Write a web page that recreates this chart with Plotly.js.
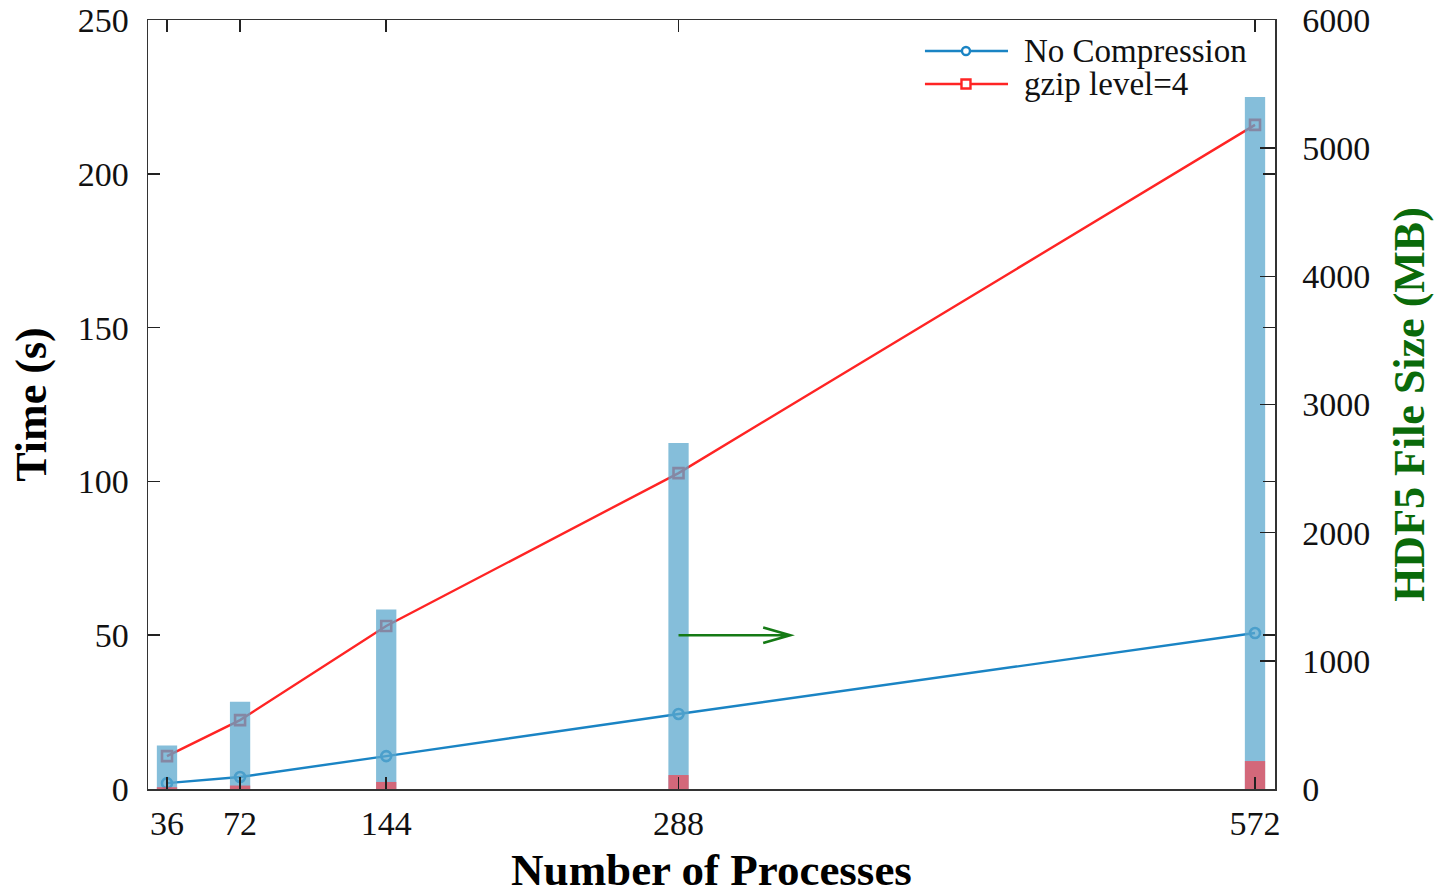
<!DOCTYPE html>
<html>
<head>
<meta charset="utf-8">
<script src="https://cdn.plot.ly/plotly-3.0.1.min.js"></script>
<style>html,body{margin:0;padding:0;background:#fff;}#chart{width:1435px;height:895px;}</style>
</head>
<body>
<div id="chart"></div>
<script>
// ---- data ----
const processes = [36, 72, 144, 288, 572];
const timeNoCompression = [1.9, 3.9, 10.7, 24.4, 50.7];
const timeGzip4 = [10.7, 22.4, 53.0, 102.7, 215.9];
const sizeNoCompressionMB = [340, 680, 1400, 2700, 5400];
const sizeGzip4MB = [14, 27, 55, 109, 218];
const seriesNames = ['No Compression', 'gzip level=4'];
const xTickLabels = ['36', '72', '144', '288', '572'];

const FONT = 'Liberation Serif, Times New Roman, serif';
const BLUE = '#1a84c4';
const RED = '#ff2424';

const traces = [
  {
    x: processes, y: timeNoCompression, name: seriesNames[0], type: 'scatter', mode: 'lines+markers',
    line: {color: BLUE, width: 2.4}, marker: {symbol: 'circle-open', size: 10, color: BLUE, line: {width: 2.6, color: BLUE}},
    xaxis: 'x', yaxis: 'y', showlegend: false
  },
  {
    x: processes, y: timeGzip4, name: seriesNames[1], type: 'scatter', mode: 'lines+markers',
    line: {color: RED, width: 2.4}, marker: {symbol: 'square-open', size: 10, color: RED, line: {width: 2.6, color: RED}},
    xaxis: 'x', yaxis: 'y', showlegend: false
  },
  {
    x: processes, y: sizeNoCompressionMB, name: seriesNames[0] + ' size', type: 'bar', width: 10,
    marker: {color: 'rgba(92,168,206,0.75)', line: {width: 0}},
    xaxis: 'x', yaxis: 'y2', showlegend: false
  },
  {
    x: processes, y: sizeGzip4MB, name: seriesNames[1] + ' size', type: 'bar', width: 10,
    marker: {color: 'rgba(238,75,90,0.75)', line: {width: 0}},
    xaxis: 'x', yaxis: 'y2', showlegend: false
  }
];

// arrow pointing to the right axis (bars use the right axis)
const arrowX0 = processes[3], arrowX1 = 343, arrowY = 50;
const headDX = 13.3, headDY = 2.5;

// custom legend placement (paper coords)
const legX0 = 0.6894, legX1 = 0.7631, legXm = 0.7258, legXt = 0.7755;
const legY = [0.9597, 0.9168];

const shapes = [
  {type: 'path', xref: 'x', yref: 'y',
   path: `M ${arrowX0},${arrowY} L ${arrowX1},${arrowY} M ${arrowX1 - headDX},${arrowY + headDY} L ${arrowX1},${arrowY} L ${arrowX1 - headDX},${arrowY - headDY}`,
   line: {color: '#157a15', width: 2.6}},
  {type: 'line', xref: 'paper', yref: 'paper', x0: legX0, x1: legX1, y0: legY[0], y1: legY[0], line: {color: BLUE, width: 2.4}},
  {type: 'circle', xref: 'paper', yref: 'paper', xsizemode: 'pixel', ysizemode: 'pixel', xanchor: legXm, yanchor: legY[0],
   x0: -4, x1: 4, y0: -4, y1: 4, line: {color: BLUE, width: 2.4}, fillcolor: 'white'},
  {type: 'line', xref: 'paper', yref: 'paper', x0: legX0, x1: legX1, y0: legY[1], y1: legY[1], line: {color: RED, width: 2.4}},
  {type: 'rect', xref: 'paper', yref: 'paper', xsizemode: 'pixel', ysizemode: 'pixel', xanchor: legXm, yanchor: legY[1],
   x0: -4.5, x1: 4.5, y0: -4.5, y1: 4.5, line: {color: RED, width: 2.4}, fillcolor: 'white'}
];

const annotations = seriesNames.map((n, i) => ({
  text: n, xref: 'paper', yref: 'paper', x: legXt, y: legY[i], xanchor: 'left', yanchor: 'middle',
  showarrow: false, font: {family: FONT, size: 33, color: '#111'}
}));

const layout = {
  width: 1435, height: 895,
  margin: {l: 148, r: 160, t: 20, b: 106},
  paper_bgcolor: '#fff', plot_bgcolor: '#fff',
  barmode: 'overlay',
  font: {family: FONT, size: 34, color: '#111'},
  xaxis: {
    type: 'linear', range: [26.64, 581.85],
    tickmode: 'array', tickvals: processes, ticktext: xTickLabels,
    ticks: 'inside', ticklen: 12, tickwidth: 1.5, tickcolor: '#222',
    showline: true, linecolor: '#333', linewidth: 1.5, mirror: 'ticks',
    showgrid: false, zeroline: false,
    tickfont: {family: FONT, size: 34, color: '#111'},
    ticklabelstandoff: 4,
    title: {text: 'Number of Processes', font: {family: FONT, size: 45, color: '#000', weight: 'bold'}, standoff: 17}
  },
  yaxis: {
    range: [0, 250], tickvals: [0, 50, 100, 150, 200, 250],
    ticks: 'inside', ticklen: 12, tickwidth: 1.5, tickcolor: '#222',
    showline: true, linecolor: '#333', linewidth: 1.5, mirror: 'ticks',
    showgrid: false, zeroline: false,
    tickfont: {family: FONT, size: 34, color: '#111'},
    ticklabelstandoff: 11,
    title: {text: 'Time (s)', font: {family: FONT, size: 44, color: '#000', weight: 'bold'}, standoff: 17}
  },
  yaxis2: {
    range: [0, 6000], tickvals: [0, 1000, 2000, 3000, 4000, 5000, 6000],
    overlaying: 'y', side: 'right',
    ticks: 'inside', ticklen: 15, tickwidth: 1.5, tickcolor: '#222',
    showline: true, linecolor: '#333', linewidth: 1.5,
    showgrid: false, zeroline: false,
    tickfont: {family: FONT, size: 34, color: '#111'},
    ticklabelstandoff: 19,
    title: {text: 'HDF5 File Size (MB)', font: {family: FONT, size: 44, color: '#0a6a0a', weight: 'bold'}, standoff: 24}
  },
  shapes: shapes,
  annotations: annotations,
  showlegend: false
};

Plotly.newPlot('chart', traces, layout, {displayModeBar: false, staticPlot: true});
</script>
</body>
</html>
